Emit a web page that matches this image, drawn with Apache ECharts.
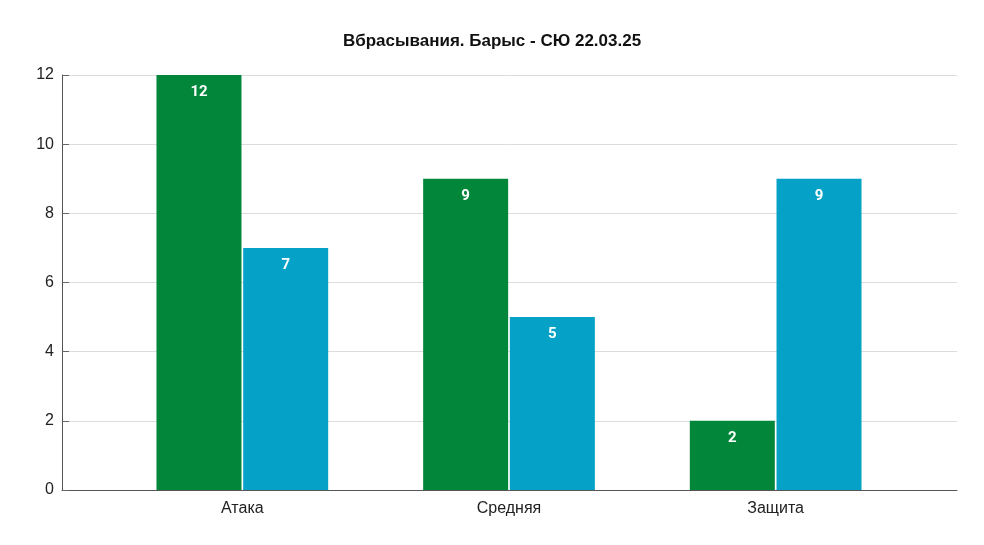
<!DOCTYPE html>
<html><head><meta charset="utf-8">
<script src="https://cdn.jsdelivr.net/npm/echarts@6/dist/echarts.min.js"></script>
<style>html,body{margin:0;padding:0;background:#fff}#c{width:984px;height:545px}</style>
</head><body><div id="c"></div>
<script>
var titleText = 'Вбрасывания. Барыс - СЮ 22.03.25';
var categories = ['Атака', 'Средняя', 'Защита'];
var seriesA = [12, 9, 2];
var seriesB = [7, 5, 9];
var yMin = 0, yMax = 12, yStep = 2;

var chart = echarts.init(document.getElementById('c'), null, {renderer: 'canvas'});
var labelStyle = {show: true, position: 'insideTop', distance: 10, color: '#fff', fontWeight: 'bold', fontSize: 15, fontFamily: 'Roboto'};
chart.setOption({
  backgroundColor: '#fff',
  animation: false,
  title: {text: titleText, left: 'center', top: 28, textStyle: {fontFamily: 'Liberation Sans', fontWeight: 'bold', fontSize: 17, color: '#111'}},
  grid: [
    {left: 62, right: 27, top: 75, bottom: 55},
    {left: 109, right: 75, top: 75, bottom: 55}
  ],
  xAxis: [
    {gridIndex: 0, type: 'category', data: categories, axisLine: {lineStyle: {color: '#555', width: 1}}, axisTick: {show: false}, axisLabel: {show: false}},
    {gridIndex: 1, type: 'category', data: categories, axisLine: {show: false}, axisTick: {show: false},
     axisLabel: {margin: 11, color: '#222', fontSize: 16, fontFamily: 'Liberation Sans'}}
  ],
  yAxis: [
    {gridIndex: 0, type: 'value', min: yMin, max: yMax, interval: yStep,
     axisLine: {show: true, lineStyle: {color: '#555'}}, axisTick: {show: true, inside: true, length: 7, lineStyle: {color: '#666'}},
     axisLabel: {margin: 8, color: '#222', fontSize: 16, fontFamily: 'Liberation Sans'},
     splitLine: {lineStyle: {color: '#dcdcdc'}}},
    {gridIndex: 1, type: 'value', min: yMin, max: yMax, interval: yStep, show: false, splitLine: {show: false}}
  ],
  series: [
    {type: 'bar', xAxisIndex: 1, yAxisIndex: 1, data: seriesA, barWidth: 85, barGap: '2%', itemStyle: {color: '#02873a'}, label: labelStyle},
    {type: 'bar', xAxisIndex: 1, yAxisIndex: 1, data: seriesB, barWidth: 85, barGap: '2%', itemStyle: {color: '#05a1c7'}, label: labelStyle}
  ]
});
</script></body></html>
